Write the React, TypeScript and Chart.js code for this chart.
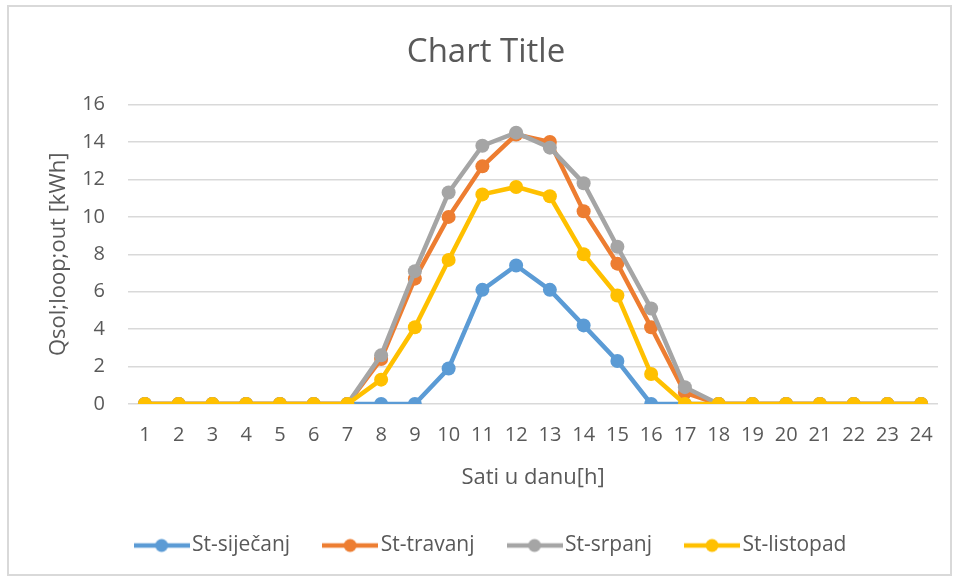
import React, { useEffect, useRef } from "react";
import { Chart, registerables } from "chart.js";

Chart.register(...registerables);

const hours = ["1","2","3","4","5","6","7","8","9","10","11","12","13","14","15","16","17","18","19","20","21","22","23","24"];
const sijecanj = [0,0,0,0,0,0,0,0,0,1.9,6.1,7.4,6.1,4.2,2.3,0,0,0,0,0,0,0,0,0];
const travanj = [0,0,0,0,0,0,0,2.4,6.7,10.0,12.7,14.4,14.0,10.3,7.5,4.1,0.6,0,0,0,0,0,0,0];
const srpanj = [0,0,0,0,0,0,0,2.6,7.1,11.3,13.8,14.5,13.7,11.8,8.4,5.1,0.9,0,0,0,0,0,0,0];
const listopad = [0,0,0,0,0,0,0,1.3,4.1,7.7,11.2,11.6,11.1,8.0,5.8,1.6,0,0,0,0,0,0,0,0];
const seriesNames = ["St-siječanj", "St-travanj", "St-srpanj", "St-listopad"];
const seriesColors = ["#5B9BD5", "#ED7D31", "#A5A5A5", "#FFC000"];
const yTicks = [0, 2, 4, 6, 8, 10, 12, 14, 16];

const FONT = "'Open Sans', 'Noto Sans', sans-serif";
const TEXT = "#595959";

function legendImage(color: string): HTMLCanvasElement {
  const c = document.createElement("canvas");
  c.width = 56;
  c.height = 16;
  const ctx = c.getContext("2d")!;
  ctx.strokeStyle = color;
  ctx.lineWidth = 4.5;
  ctx.beginPath();
  ctx.moveTo(0, 8);
  ctx.lineTo(56, 8);
  ctx.stroke();
  ctx.fillStyle = color;
  ctx.beginPath();
  ctx.arc(28, 8, 6.5, 0, Math.PI * 2);
  ctx.fill();
  return c;
}

const frame = {
  id: "frame",
  beforeDraw(chart: any) {
    const ctx = chart.ctx;
    ctx.save();
    ctx.fillStyle = "#ffffff";
    ctx.fillRect(0, 0, chart.width, chart.height);
    ctx.strokeStyle = "#d9d9d9";
    ctx.lineWidth = 2;
    ctx.strokeRect(8, 6, 943, 569);
    ctx.restore();
  },
  afterLayout(chart: any) {
    if (chart.legend) {
      chart.legend.left += 8;
      chart.legend.right += 8;
    }
  },
};

export default function App() {
  const ref = useRef<HTMLCanvasElement>(null);
  useEffect(() => {
    const all = [sijecanj, travanj, srpanj, listopad];
    const imgs = seriesColors.map(legendImage);
    const chart = new Chart(ref.current!, {
      type: "line",
      data: {
        labels: hours,
        datasets: all.map((d, i) => ({
          label: seriesNames[i],
          data: d,
          borderColor: seriesColors[i],
          backgroundColor: seriesColors[i],
          borderWidth: 4.5,
          pointRadius: 7,
          pointHoverRadius: 7,
          pointBorderWidth: 0,
          pointBackgroundColor: seriesColors[i],
          tension: 0,
          order: 4 - i,
        })),
      },
      options: {
        animation: false,
        responsive: false,
        layout: { padding: { left: 34, right: 18, top: 0, bottom: 12 } },
        plugins: {
          tooltip: { enabled: false },
          title: {
            display: true,
            text: "Chart Title",
            color: TEXT,
            font: { family: FONT, size: 33, weight: "normal" },
            padding: { top: 33, bottom: 32 },
          },
          legend: {
            position: "bottom",
            labels: {
              color: TEXT,
              font: { family: FONT, size: 21 },
              usePointStyle: true,
              pointStyleWidth: 40,
              padding: 40,
              generateLabels: () =>
                seriesNames.map((n, i) => ({
                  text: n,
                  fillStyle: seriesColors[i],
                  strokeStyle: seriesColors[i],
                  lineWidth: 0,
                  pointStyle: imgs[i],
                  hidden: false,
                  datasetIndex: i,
                  fontColor: TEXT,
                })),
            },
          },
        },
        scales: {
          x: {
            offset: true,
            grid: { display: false },
            border: { display: false },
            ticks: {
              color: TEXT,
              font: { family: FONT, size: 20 },
              autoSkip: false,
              maxRotation: 0,
              padding: 11,
            },
            title: {
              display: true,
              text: "Sati u danu[h]",
              color: TEXT,
              font: { family: FONT, size: 22 },
              padding: { top: 0, bottom: 4 },
            },
            afterFit: (s: any) => { s.height = 91; },
          },
          y: {
            min: 0,
            max: 16,
            afterBuildTicks: (s: any) => { s.ticks = yTicks.map((v) => ({ value: v })); },
            grid: { color: "#d9d9d9", lineWidth: 1.5, drawTicks: false },
            border: { display: false },
            ticks: {
              color: TEXT,
              font: { family: FONT, size: 20 },
              padding: 23,
            },
            title: {
              display: true,
              text: "Qsol;loop;out [kWh]",
              color: TEXT,
              font: { family: FONT, size: 22 },
              padding: { top: 12, bottom: 0 },
            },
            afterFit: (s: any) => { s.width = 94; },
          },
        },
      },
      plugins: [frame],
    });
    return () => chart.destroy();
  }, []);
  return (
    <div style={{ position: "absolute", left: 0, top: 0, width: 956, height: 578 }}>
      <canvas ref={ref} width={956} height={578} style={{ display: "block" }} />
    </div>
  );
}
